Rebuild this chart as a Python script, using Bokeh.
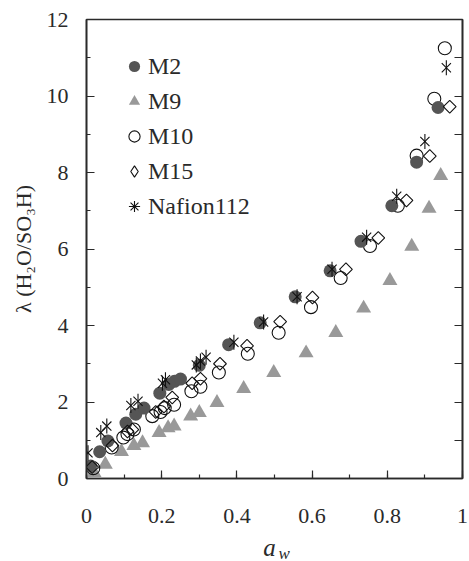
import numpy as np
from bokeh.plotting import figure
from bokeh.models import (Range1d, LinearAxis, FixedTicker, SingleIntervalTicker,
                          Legend, LegendItem)
from bokeh.embed import file_html
from bokeh.resources import INLINE

# Water uptake (lambda) versus water activity for each membrane
m2_aw = [0.011, 0.035, 0.057, 0.105, 0.131, 0.153, 0.195, 0.219, 0.234, 0.250,
         0.300, 0.378, 0.462, 0.555, 0.648, 0.730, 0.812, 0.878, 0.935]
m2_lam = [0.33, 0.70, 0.98, 1.45, 1.68, 1.84, 2.23, 2.46, 2.54, 2.60,
          2.96, 3.50, 4.07, 4.75, 5.43, 6.20, 7.13, 8.27, 9.70]

m9_aw = [0.020, 0.050, 0.093, 0.126, 0.149, 0.193, 0.217, 0.233, 0.277, 0.300,
         0.347, 0.418, 0.498, 0.584, 0.663, 0.737, 0.807, 0.865, 0.911, 0.942]
m9_lam = [0.15, 0.37, 0.70, 0.86, 0.93, 1.20, 1.32, 1.37, 1.63, 1.72,
          1.98, 2.35, 2.77, 3.28, 3.81, 4.45, 5.17, 6.07, 7.06, 7.92]

m10_aw = [0.018, 0.067, 0.098, 0.109, 0.126, 0.175, 0.197, 0.208, 0.233, 0.279,
          0.303, 0.352, 0.429, 0.511, 0.597, 0.676, 0.754, 0.828, 0.878, 0.925, 0.953]
m10_lam = [0.27, 0.81, 1.07, 1.16, 1.28, 1.63, 1.74, 1.84, 1.93, 2.28,
           2.40, 2.77, 3.26, 3.81, 4.48, 5.24, 6.08, 7.13, 8.44, 9.93, 11.25]

m15_aw = [0.015, 0.069, 0.109, 0.122, 0.184, 0.206, 0.228, 0.281, 0.303, 0.355,
          0.427, 0.515, 0.601, 0.690, 0.776, 0.851, 0.913, 0.966]
m15_lam = [0.30, 0.86, 1.23, 1.28, 1.74, 1.88, 2.12, 2.49, 2.61, 3.00,
           3.47, 4.10, 4.73, 5.47, 6.29, 7.27, 8.43, 9.72]

naf_aw = [0.004, 0.038, 0.054, 0.118, 0.137, 0.202, 0.210, 0.292, 0.303, 0.318,
          0.392, 0.471, 0.560, 0.653, 0.745, 0.825, 0.900, 0.957]
naf_lam = [0.67, 1.20, 1.37, 1.91, 2.02, 2.49, 2.58, 2.97, 3.07, 3.17,
           3.56, 4.09, 4.75, 5.47, 6.31, 7.38, 8.81, 10.74]

x_ticks = [0, 0.2, 0.4, 0.6, 0.8, 1]
x_tick_labels = ["0", "0.2", "0.4", "0.6", "0.8", "1"]
y_ticks = [0, 2, 4, 6, 8, 10, 12]
y_tick_labels = ["0", "2", "4", "6", "8", "10", "12"]

# x-axis title a_w: the letter and its subscript sit on two extra bottom axes
x_title_main, x_title_main_at = "a", 0.487
x_title_sub, x_title_sub_at = "w", 0.526
y_title = "λ (H₂O/SO₃H)"

SERIF = "Liberation Serif"
INK = "#2a2a2a"
MARK = "#111111"

p = figure(frame_width=376, frame_height=459,
           x_range=Range1d(0, 1), y_range=Range1d(0, 12),
           output_backend="svg", toolbar_location=None, tools="",
           min_border_left=86, min_border_right=7,
           min_border_top=19, min_border_bottom=83)
p.background_fill_color = "white"
p.border_fill_color = "white"
p.xgrid.visible = False
p.ygrid.visible = False
p.outline_line_color = INK
p.outline_line_width = 1.6

# bottom axis
xa = p.xaxis[0]
xa.ticker = FixedTicker(ticks=x_ticks, minor_ticks=[i / 10 for i in range(11)])
xa.major_label_overrides = dict(zip(x_ticks, x_tick_labels))
# left axis
ya = p.yaxis[0]
ya.ticker = FixedTicker(ticks=y_ticks, minor_ticks=list(range(13)))
ya.major_label_overrides = dict(zip(y_ticks, y_tick_labels))
ya.axis_label = y_title
ya.axis_label_text_font = SERIF
ya.axis_label_text_font_style = "normal"
ya.axis_label_text_font_size = "22px"
ya.axis_label_text_color = INK
ya.axis_label_standoff = 8

for ax, standoff in ((xa, 30), (ya, 18)):
    ax.axis_line_color = INK
    ax.axis_line_width = 1.6
    ax.major_tick_in = 8
    ax.major_tick_out = 0
    ax.minor_tick_in = 4
    ax.minor_tick_out = 0
    ax.major_tick_line_color = INK
    ax.minor_tick_line_color = INK
    ax.major_tick_line_width = 1.2
    ax.minor_tick_line_width = 1.2
    ax.major_label_text_font = SERIF
    ax.major_label_text_font_size = "22px"
    ax.major_label_text_color = INK
    ax.major_label_standoff = standoff

# right axis: inward ticks only, no labels
ra = LinearAxis(ticker=SingleIntervalTicker(interval=1, num_minor_ticks=0))
ra.axis_line_color = INK
ra.axis_line_width = 1.6
ra.major_tick_in = 8
ra.major_tick_out = 0
ra.minor_tick_in = 0
ra.minor_tick_out = 0
ra.major_tick_line_color = INK
ra.major_tick_line_width = 1.2
ra.major_label_text_color = None
ra.major_label_standoff = 0
p.add_layout(ra, "right")


def title_axis(text, at, size, standoff):
    ax = LinearAxis(ticker=FixedTicker(ticks=[at], minor_ticks=[]))
    ax.major_label_overrides = {at: text}
    ax.axis_line_color = None
    ax.major_tick_line_color = None
    ax.minor_tick_line_color = None
    ax.major_tick_in = 0
    ax.major_tick_out = 0
    ax.major_label_text_font = SERIF
    ax.major_label_text_font_style = "italic"
    ax.major_label_text_font_size = size
    ax.major_label_text_color = INK
    ax.major_label_standoff = standoff
    p.add_layout(ax, "below")


title_axis(x_title_main, x_title_main_at, "25px", 8)
title_axis(x_title_sub, x_title_sub_at, "17px", -20)

# data series
r_m9 = p.scatter(m9_aw, m9_lam, marker="triangle", size=15,
                 fill_color="#999999", line_color=None)
r_m10 = p.scatter(m10_aw, m10_lam, marker="circle", size=13,
                  fill_color=None, line_color=MARK, line_width=1.1)
r_m2 = p.scatter(m2_aw, m2_lam, marker="circle", size=13,
                 fill_color="#555555", line_color=None)
r_m15 = p.scatter(m15_aw, m15_lam, marker="square", size=9, angle=np.pi / 4,
                  fill_color=None, line_color=MARK, line_width=1.1)
# six-armed asterisk: diagonal cross plus a vertical stroke
r_naf_x = p.scatter(naf_aw, naf_lam, marker="x", size=13,
                    line_color=MARK, line_width=1.1)
r_naf_v = p.scatter(naf_aw, naf_lam, marker="dash", size=15, angle=np.pi / 2,
                    line_color=MARK, line_width=1.1)

# legend swatches (legend glyphs are drawn unrotated)
r_m15_key = p.scatter(m15_aw, m15_lam, marker="diamond", size=13, visible=False,
                      fill_color=None, line_color=MARK, line_width=1.1)
r_naf_key = p.scatter(naf_aw, naf_lam, marker="asterisk", size=13, visible=False,
                      line_color=MARK, line_width=1.1)

legend = Legend(items=[
    LegendItem(label="M2", renderers=[r_m2]),
    LegendItem(label="M9", renderers=[r_m9]),
    LegendItem(label="M10", renderers=[r_m10]),
    LegendItem(label="M15", renderers=[r_m15_key]),
    LegendItem(label="Nafion112", renderers=[r_naf_key]),
], location=(34, 257))
legend.border_line_color = None
legend.background_fill_alpha = 0
legend.padding = 0
legend.margin = 0
legend.spacing = 5
legend.glyph_width = 28
legend.glyph_height = 30
legend.label_height = 30
legend.label_standoff = 0
legend.label_text_font = SERIF
legend.label_text_font_size = "24px"
legend.label_text_color = INK
p.add_layout(legend, "center")

open("out.html", "w").write(file_html(p, INLINE))
